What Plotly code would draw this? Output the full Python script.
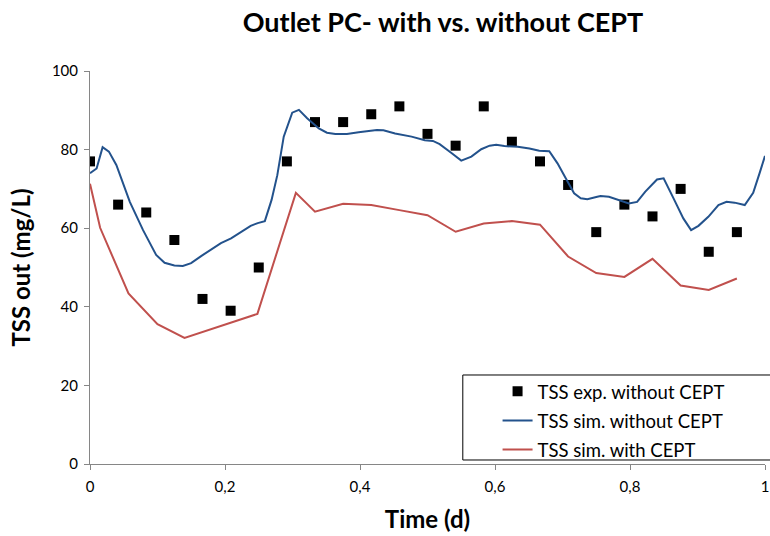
import plotly.graph_objects as go

# Measured outlet TSS, hourly samples (without CEPT)
t_exp = [i / 24 for i in range(24)]
tss_exp = [77, 66, 64, 57, 42, 39, 50, 77, 87, 87, 89, 91,
           84, 81, 91, 82, 77, 71, 59, 66, 63, 70, 54, 59]

# Simulated outlet TSS without CEPT
t_sim_no = [0, 0.0098, 0.0187, 0.028, 0.039, 0.059, 0.0786, 0.098, 0.1105, 0.125,
            0.1375, 0.1498, 0.1646, 0.179, 0.194, 0.209, 0.2235, 0.238, 0.2485, 0.259,
            0.269, 0.2775, 0.287, 0.2996, 0.3095, 0.3217, 0.339, 0.351, 0.3635, 0.3806,
            0.398, 0.41, 0.425, 0.4347, 0.452, 0.4764, 0.496, 0.508, 0.518, 0.535,
            0.55, 0.565, 0.5796, 0.592, 0.6017, 0.614, 0.6337, 0.651, 0.6656, 0.6804,
            0.6926, 0.7048, 0.7172, 0.727, 0.7368, 0.7515, 0.7564, 0.7688, 0.7859, 0.7983,
            0.8105, 0.8227, 0.84, 0.8498, 0.8645, 0.879, 0.8905, 0.9014, 0.916, 0.931,
            0.943, 0.955, 0.97, 0.9825, 0.992, 1.0]
tss_sim_no = [74.0, 75.2, 80.6, 79.5, 76.1, 66.7, 59.5, 53.2, 51.2, 50.5,
              50.4, 51.1, 52.9, 54.5, 56.2, 57.4, 59.1, 60.6, 61.3, 61.8,
              67.2, 73.5, 83.3, 89.4, 90.1, 88.0, 85.4, 84.3, 84.0, 84.0,
              84.4, 84.6, 85.0, 84.9, 84.1, 83.3, 82.4, 82.2, 81.4, 79.2,
              77.2, 78.2, 80.1, 81.0, 81.2, 80.9, 80.7, 80.3, 79.7, 79.6,
              76.5, 72.7, 68.9, 67.6, 67.4, 68.0, 68.2, 68.0, 66.9, 66.3,
              66.7, 69.3, 72.4, 72.7, 67.6, 62.5, 59.5, 60.6, 62.9, 65.9,
              66.7, 66.5, 65.9, 69.0, 74.0, 78.4]

# Simulated outlet TSS with CEPT
t_sim_cept = [0, 0.015, 0.057, 0.1, 0.14, 0.248, 0.305, 0.3333, 0.375, 0.4167,
              0.4583, 0.5, 0.5417, 0.5833, 0.625, 0.6667, 0.7083, 0.75, 0.7917,
              0.8333, 0.875, 0.9167, 0.9583]
tss_sim_cept = [71.3, 60.1, 43.4, 35.6, 32.1, 38.2, 69.0, 64.2, 66.2, 65.9,
                64.6, 63.3, 59.1, 61.2, 61.8, 60.9, 52.8, 48.6, 47.6,
                52.2, 45.4, 44.3, 47.2]

x_tickvals = [0, 0.2, 0.4, 0.6, 0.8, 1]
x_ticktext = ["0", "0,2", "0,4", "0,6", "0,8", "1"]
y_tickvals = [0, 20, 40, 60, 80, 100]

FONT = "Lato"
AXIS_GREY = "#868686"

fig = go.Figure()
fig.add_trace(go.Scatter(
    x=t_exp, y=tss_exp, mode="markers", name="TSS exp. without CEPT",
    marker=dict(symbol="square", size=10, color="black"),
    legendgroup="a",
))
fig.add_trace(go.Scatter(
    x=t_sim_no, y=tss_sim_no, mode="lines", name="TSS sim. without CEPT",
    line=dict(color="#23528C", width=2),
    legendgroup="b",
))
fig.add_trace(go.Scatter(
    x=t_sim_cept, y=tss_sim_cept, mode="lines", name="TSS sim. with CEPT",
    line=dict(color="#C0504D", width=2),
    legendgroup="c",
))

# Legend frame
fig.add_shape(type="rect", xref="paper", yref="paper",
              x0=0.5523, x1=1.05, y0=0.0102, y1=0.2265,
              line=dict(color="black", width=1), fillcolor="white", layer="below")

fig.update_layout(
    width=770, height=536,
    margin=dict(l=90, r=1, t=71, b=72),
    paper_bgcolor="white", plot_bgcolor="white",
    font=dict(family=FONT, color="black"),
    title=dict(text="<b>Outlet PC- with vs. without CEPT</b>",
               x=443 / 770, xanchor="center", y=1 - 23 / 536, yanchor="middle",
               font=dict(size=27, family=FONT, color="black")),
    showlegend=True,
    legend=dict(x=0.6038, xanchor="left", y=0.232, yanchor="top",
                bgcolor="rgba(0,0,0,0)", borderwidth=0,
                font=dict(size=18.5, family=FONT, color="black"),
                traceorder="grouped", tracegroupgap=2,
                itemwidth=30),
    xaxis=dict(range=[0, 1], tickvals=x_tickvals, ticktext=x_ticktext,
               showgrid=False, zeroline=False, showline=True,
               linecolor=AXIS_GREY, linewidth=1,
               ticks="outside", ticklen=5, tickcolor=AXIS_GREY,
               ticklabelstandoff=4, ticklabeloverflow="allow",
               tickfont=dict(size=15, family=FONT, color="black"),
               title=dict(text="<b>Time (d)</b>", standoff=17,
                          font=dict(size=24, family=FONT, color="black"))),
    yaxis=dict(range=[0, 100], tickvals=y_tickvals,
               showgrid=False, zeroline=False, showline=True,
               linecolor=AXIS_GREY, linewidth=1,
               ticks="outside", ticklen=5, tickcolor=AXIS_GREY,
               ticklabelstandoff=3,
               tickfont=dict(size=15, family=FONT, color="black"),
               title=dict(text="<b>TSS out (mg/L)</b>", standoff=14,
                          font=dict(size=24, family=FONT, color="black"))),
)

fig.write_html("out.html")
